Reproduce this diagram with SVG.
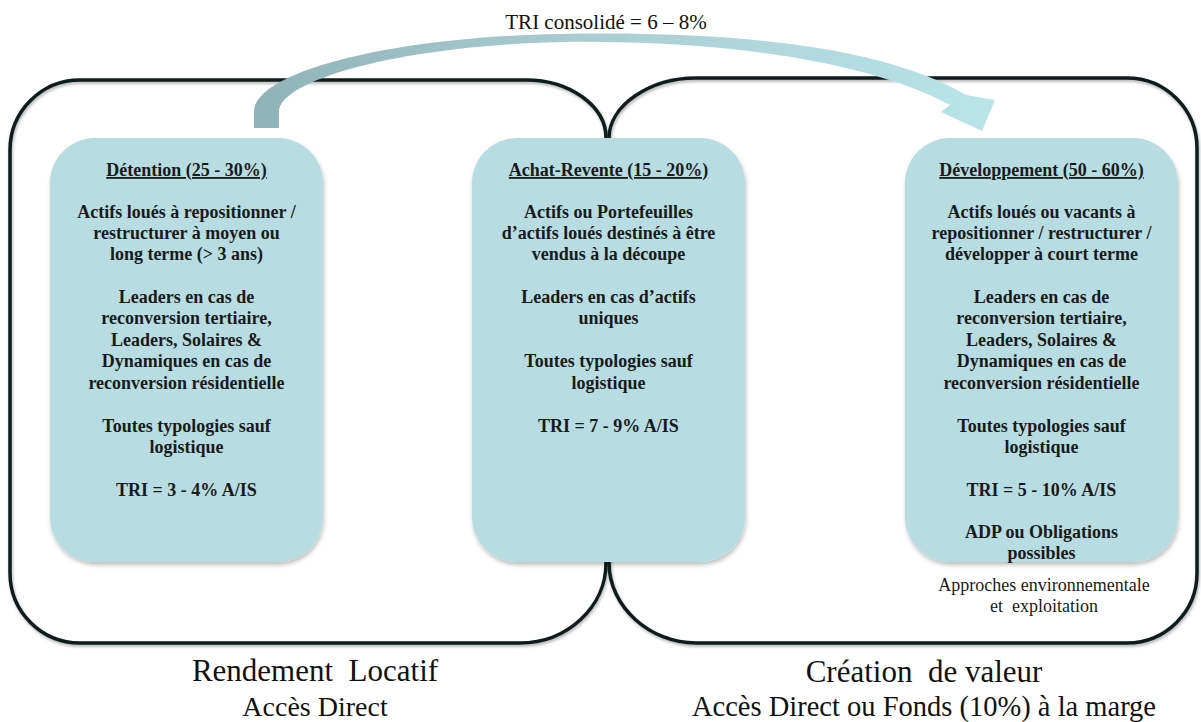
<svg xmlns="http://www.w3.org/2000/svg" width="1201" height="722" viewBox="0 0 1201 722">
<defs>
<style>
.cont{fill:none;stroke:#111b1b;stroke-width:3.5}
.box{fill:#b7dde2}
.t{font-family:'Liberation Serif','Times New Roman','DejaVu Serif',serif;font-size:18px;font-weight:bold;fill:#1a1a1a;text-anchor:middle}
.h{text-decoration:underline}
.r{font-family:'Liberation Serif','Times New Roman','DejaVu Serif',serif;font-size:18px;fill:#1a1a1a;text-anchor:middle}
.big{font-family:'Liberation Serif','Times New Roman','DejaVu Serif',serif;fill:#111;text-anchor:middle}
</style>
<filter id="sh" x="-10%" y="-10%" width="120%" height="120%">
<feDropShadow dx="1" dy="3" stdDeviation="2" flood-color="#000" flood-opacity="0.25"/>
</filter>
<filter id="sh2" x="-5%" y="-5%" width="110%" height="110%">
<feDropShadow dx="1" dy="2" stdDeviation="1.5" flood-color="#000" flood-opacity="0.3"/>
</filter>
<linearGradient id="ag" x1="254" y1="0" x2="992" y2="0" gradientUnits="userSpaceOnUse">
<stop offset="0" stop-color="#8fb3b8"/>
<stop offset="0.45" stop-color="#a9cdd2"/>
<stop offset="1" stop-color="#b8e4ea"/>
</linearGradient>
</defs>
<rect width="1201" height="722" fill="#fff"/>

<g id="containers" filter="url(#sh2)">
<path class="cont" d="M606,138 C606,105.4 569,80 526,80 L80,80 A70,70 0 0 0 10,150 L10,573 A70,70 0 0 0 80,643 L520,643 C567,643 606,607 606,563 Z"/>
<path class="cont" d="M609,138 C609,105.4 650,78 696,78 L1127,78 A70,70 0 0 1 1197,148 L1197,573 A70,70 0 0 1 1127,643 L696,643 C650,643 609,607 609,563 Z"/>
</g>

<g id="connectors">
<path fill="url(#ag)" d="M254,128 L254,112 C254,72 390,37 560,34 C730,31 882,45 966,95 L995,100 L982,131 L941,112 L950,105 C866,60 720,40 560,42 C400,46 279,80 279,112 L279,128 Z"/>
<text class="big" x="606" y="29" font-size="21">TRI consolidé = 6 – 8%</text>
</g>

<g id="detention">
<rect class="box" x="50" y="138" width="273" height="424" rx="45" filter="url(#sh)"/>
<text class="t h" x="186.5" y="176">Détention (25 - 30%)</text>
<text class="t" x="186.5" y="218">Actifs loués à repositionner /</text>
<text class="t" x="186.5" y="239">restructurer à moyen ou</text>
<text class="t" x="186.5" y="260">long terme (&gt; 3 ans)</text>
<text class="t" x="186.5" y="303">Leaders en cas de</text>
<text class="t" x="186.5" y="324">reconversion tertiaire,</text>
<text class="t" x="186.5" y="346">Leaders, Solaires &amp;</text>
<text class="t" x="186.5" y="367">Dynamiques en cas de</text>
<text class="t" x="186.5" y="389">reconversion résidentielle</text>
<text class="t" x="186.5" y="432">Toutes typologies sauf</text>
<text class="t" x="186.5" y="453">logistique</text>
<text class="t" x="186.5" y="496">TRI = 3 - 4% A/IS</text>
</g>

<g id="achat-revente">
<rect class="box" x="472" y="138" width="273" height="424" rx="45" filter="url(#sh)"/>
<text class="t h" x="608.5" y="176">Achat-Revente (15 - 20%)</text>
<text class="t" x="608.5" y="218">Actifs ou Portefeuilles</text>
<text class="t" x="608.5" y="239">d’actifs loués destinés à être</text>
<text class="t" x="608.5" y="260">vendus à la découpe</text>
<text class="t" x="608.5" y="303">Leaders en cas d’actifs</text>
<text class="t" x="608.5" y="324">uniques</text>
<text class="t" x="608.5" y="367">Toutes typologies sauf</text>
<text class="t" x="608.5" y="389">logistique</text>
<text class="t" x="608.5" y="432">TRI = 7 - 9% A/IS</text>
</g>

<g id="developpement">
<rect class="box" x="905" y="138" width="273" height="424" rx="45" filter="url(#sh)"/>
<text class="t h" x="1041.5" y="176">Développement (50 - 60%)</text>
<text class="t" x="1041.5" y="218">Actifs loués ou vacants à</text>
<text class="t" x="1041.5" y="239">repositionner / restructurer /</text>
<text class="t" x="1041.5" y="260">développer à court terme</text>
<text class="t" x="1041.5" y="303">Leaders en cas de</text>
<text class="t" x="1041.5" y="324">reconversion tertiaire,</text>
<text class="t" x="1041.5" y="346">Leaders, Solaires &amp;</text>
<text class="t" x="1041.5" y="367">Dynamiques en cas de</text>
<text class="t" x="1041.5" y="389">reconversion résidentielle</text>
<text class="t" x="1041.5" y="432">Toutes typologies sauf</text>
<text class="t" x="1041.5" y="453">logistique</text>
<text class="t" x="1041.5" y="496">TRI = 5 - 10% A/IS</text>
<text class="t" x="1041.5" y="538">ADP ou Obligations</text>
<text class="t" x="1041.5" y="559">possibles</text>
<text class="r" x="1044" y="591">Approches environnementale</text>
<text class="r" x="1044" y="612" xml:space="preserve">et  exploitation</text>
</g>

<g id="labels">
<text class="big" x="315" y="681" font-size="31" xml:space="preserve">Rendement  Locatif</text>
<text class="big" x="315" y="716" font-size="28">Accès Direct</text>
<text class="big" x="924" y="682" font-size="31" xml:space="preserve">Création  de valeur</text>
<text class="big" x="924" y="716" font-size="28.5">Accès Direct ou Fonds (10%) à la marge</text>
</g>
</svg>
